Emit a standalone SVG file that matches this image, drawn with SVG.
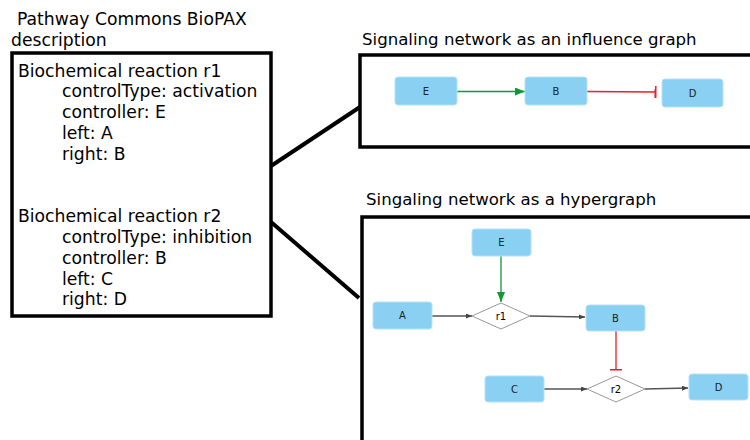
<svg xmlns="http://www.w3.org/2000/svg" width="750" height="440" viewBox="0 0 750 440">
<style>
text{font-family:"DejaVu Sans","Liberation Sans",sans-serif;fill:#000}
.t{font-size:17.2px}
.h{font-size:16.6px}
.n rect{fill:#89d0f3;stroke:#b5e2f7;stroke-width:1}
.n text{font-size:10px;text-anchor:middle;fill:#222}
.d polygon{fill:#fff;stroke:#999;stroke-width:1}
.frame{fill:none;stroke:#000;stroke-width:3.5}
.ed{fill:none;stroke-width:1.3}
</style>
<defs>
<marker id="ag" markerWidth="10" markerHeight="8" refX="10" refY="4" orient="auto" markerUnits="userSpaceOnUse"><path d="M0,0 L10,4 L0,8 Z" fill="#119933"/></marker>
<marker id="ak" markerWidth="6" markerHeight="5" refX="6" refY="2.5" orient="auto" markerUnits="userSpaceOnUse"><path d="M0,0 L6,2.5 L0,5 Z" fill="#444"/></marker>
<marker id="tr" markerWidth="3" markerHeight="12" refX="1.5" refY="6" orient="auto" markerUnits="userSpaceOnUse"><rect x="0" y="0" width="2" height="12" fill="#e8202a"/></marker>
</defs>

<g id="left-panel">
<text class="t" x="17" y="25">Pathway Commons BioPAX</text>
<text class="t" x="11" y="46">description</text>
<rect class="frame" x="12" y="53" width="259" height="263"/>
<text class="t" x="18" y="77">Biochemical reaction r1</text>
<text class="t" x="62" y="97">controlType: activation</text>
<text class="t" x="62" y="118">controller: E</text>
<text class="t" x="62" y="139">left: A</text>
<text class="t" x="62" y="160">right: B</text>
<text class="t" x="18" y="222">Biochemical reaction r2</text>
<text class="t" x="62" y="243">controlType: inhibition</text>
<text class="t" x="62" y="264">controller: B</text>
<text class="t" x="62" y="285">left: C</text>
<text class="t" x="62" y="305">right: D</text>
</g>

<g id="influence-panel">
<text class="h" x="362" y="45">Signaling network as an influence graph</text>
<rect class="frame" x="360" y="55" width="400" height="92"/>
</g>

<g id="hyper-panel">
<text class="h" x="366" y="205">Singaling network as a hypergraph</text>
<rect class="frame" x="362" y="217" width="400" height="240"/>
</g>

<g id="connectors">
<line x1="271" y1="166" x2="360" y2="107" stroke="#000" stroke-width="4"/>
<line x1="271" y1="222" x2="359" y2="298" stroke="#000" stroke-width="4"/>
<line class="ed" x1="457" y1="91.5" x2="525" y2="91.5" stroke="#119933" marker-end="url(#ag)"/>
<line class="ed" x1="587" y1="91.5" x2="656" y2="92" stroke="#e8202a" marker-end="url(#tr)"/>
<line class="ed" x1="501" y1="256" x2="501" y2="302" stroke="#119933" marker-end="url(#ag)"/>
<line class="ed" x1="432" y1="316" x2="472" y2="316" stroke="#555" marker-end="url(#ak)"/>
<line class="ed" x1="530" y1="316" x2="585" y2="317" stroke="#555" marker-end="url(#ak)"/>
<line class="ed" x1="616" y1="331" x2="616" y2="370" stroke="#e8202a" marker-end="url(#tr)"/>
<line class="ed" x1="544" y1="389" x2="587" y2="389" stroke="#555" marker-end="url(#ak)"/>
<line class="ed" x1="645" y1="389" x2="688" y2="388" stroke="#555" marker-end="url(#ak)"/>
</g>

<g id="ig-E" class="n"><rect x="395" y="77" width="62" height="28" rx="3"/><text x="426" y="95">E</text></g>
<g id="ig-B" class="n"><rect x="525" y="77" width="62" height="28" rx="3"/><text x="556" y="95">B</text></g>
<g id="ig-D" class="n"><rect x="662" y="79" width="61" height="28" rx="3"/><text x="692.5" y="97">D</text></g>

<g id="hg-E" class="n"><rect x="472" y="229" width="59" height="27" rx="3"/><text x="501.5" y="246">E</text></g>
<g id="hg-A" class="n"><rect x="373" y="302" width="59" height="27" rx="3"/><text x="402.5" y="319">A</text></g>
<g id="hg-r1" class="d"><polygon points="472,316 501,303 530,316 501,329"/><text x="501" y="320" font-size="10" text-anchor="middle" fill="#222">r1</text></g>
<g id="hg-B" class="n"><rect x="586" y="305" width="59" height="26" rx="3"/><text x="615.5" y="322">B</text></g>
<g id="hg-C" class="n"><rect x="485" y="376" width="59" height="26" rx="3"/><text x="514.5" y="393">C</text></g>
<g id="hg-r2" class="d"><polygon points="587,389 616,376 645,389 616,402"/><text x="616" y="393" font-size="10" text-anchor="middle" fill="#222">r2</text></g>
<g id="hg-D" class="n"><rect x="689" y="374" width="59" height="26" rx="3"/><text x="718.5" y="391">D</text></g>
</svg>
